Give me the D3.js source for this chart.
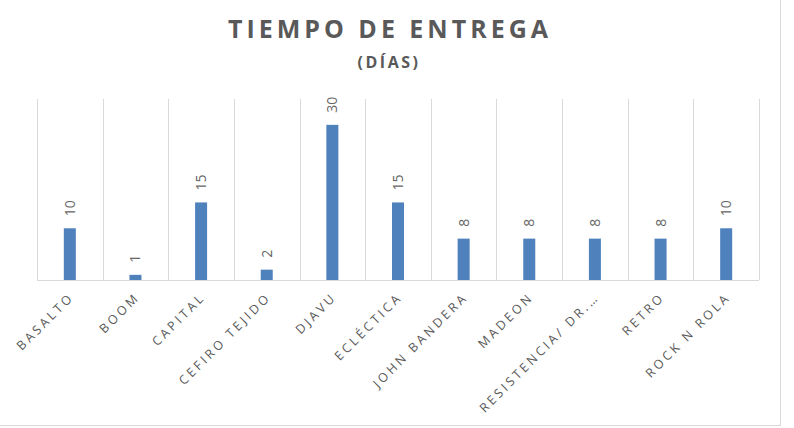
<!DOCTYPE html>
<html>
<head>
<meta charset="utf-8">
<script src="https://cdn.jsdelivr.net/npm/d3@7"></script>
<style>
  body { margin: 0; background: #fff; }
  svg { font-family: "Open Sans", sans-serif; }
</style>
</head>
<body>
<div id="chart"></div>
<script>
// chart data
const tiendas = ["BASALTO", "BOOM", "CAPITAL", "CEFIRO TEJIDO", "DJAVU", "ECLÉCTICA",
  "JOHN BANDERA", "MADEON", "RESISTENCIA/ DR.…", "RETRO", "ROCK N ROLA"];
const dias = [10, 1, 15, 2, 30, 15, 8, 8, 8, 8, 10];
const yDomain = [0, 35];

const svgWidth = 794;
const svgHeight = 428;

// plot area
const margin = { top: 99, right: 35, bottom: 148, left: 37 };
const width = svgWidth - margin.left - margin.right;
const height = svgHeight - margin.top - margin.bottom;

const svg = d3.select("#chart")
  .append("svg")
  .attr("width", svgWidth)
  .attr("height", svgHeight);

// outer chart border (only right/bottom edges show)
svg.append("line")
  .attr("x1", 780.5).attr("x2", 780.5)
  .attr("y1", 0).attr("y2", 426)
  .attr("stroke", "#d9d9d9");
svg.append("line")
  .attr("x1", 0).attr("x2", 781)
  .attr("y1", 425.5).attr("y2", 425.5)
  .attr("stroke", "#d9d9d9");

// titles
svg.append("text")
  .attr("x", 390)
  .attr("y", 38)
  .attr("text-anchor", "middle")
  .attr("fill", "#595959")
  .style("font-size", "25px")
  .style("font-weight", "bold")
  .style("letter-spacing", "4px")
  .text("TIEMPO DE ENTREGA");

svg.append("text")
  .attr("x", 389)
  .attr("y", 68)
  .attr("text-anchor", "middle")
  .attr("fill", "#595959")
  .style("font-size", "16px")
  .style("font-weight", "bold")
  .style("letter-spacing", "2.5px")
  .text("(DÍAS)");

const chartGroup = svg.append("g")
  .attr("transform", `translate(${margin.left}, ${margin.top})`);

const xScale = d3.scaleBand()
  .domain(tiendas)
  .range([0, width])
  .paddingInner(0.817)
  .paddingOuter(0.4085);

const yScale = d3.scaleLinear()
  .domain(yDomain)
  .range([height, 0]);

// vertical gridlines at category boundaries
const bounds = d3.range(tiendas.length + 1).map(i => i * xScale.step());
chartGroup.selectAll("line.grid")
  .data(bounds)
  .enter()
  .append("line")
  .attr("class", "grid")
  .attr("x1", d => Math.round(d) + 0.5)
  .attr("x2", d => Math.round(d) + 0.5)
  .attr("y1", 0)
  .attr("y2", height)
  .attr("stroke", "#d9d9d9");

// bars
chartGroup.selectAll("rect.bar")
  .data(dias)
  .enter()
  .append("rect")
  .attr("class", "bar")
  .attr("x", (d, i) => xScale(tiendas[i]))
  .attr("y", d => yScale(d))
  .attr("width", xScale.bandwidth())
  .attr("height", d => height - yScale(d))
  .attr("fill", "#4f81bd");

// base axis line
chartGroup.append("line")
  .attr("x1", 0).attr("x2", width)
  .attr("y1", height + 0.5).attr("y2", height + 0.5)
  .attr("stroke", "#d9d9d9");

// data labels (rotated)
chartGroup.selectAll("text.val")
  .data(dias)
  .enter()
  .append("text")
  .attr("class", "val")
  .attr("transform", (d, i) => {
    const cx = xScale(tiendas[i]) + xScale.bandwidth() / 2 + 5;
    return `translate(${cx}, ${yScale(d) - 12}) rotate(-90)`;
  })
  .attr("fill", "#666666")
  .style("font-size", "14px")
  .text(d => d);

// category labels
const xAxis = chartGroup.append("g")
  .attr("transform", `translate(0, ${height})`)
  .call(d3.axisBottom(xScale).tickSize(0).tickPadding(0));
xAxis.select(".domain").remove();
xAxis.selectAll("text")
  .attr("fill", "#595959")
  .style("font-family", "'Open Sans', sans-serif")
  .style("font-size", "12.5px")
  .style("letter-spacing", "3px")
  .attr("text-anchor", "end")
  .attr("x", 0)
  .attr("y", 0)
  .attr("dy", 0)
  .attr("transform", "translate(5, 18) rotate(-45)");
</script>
</body>
</html>
